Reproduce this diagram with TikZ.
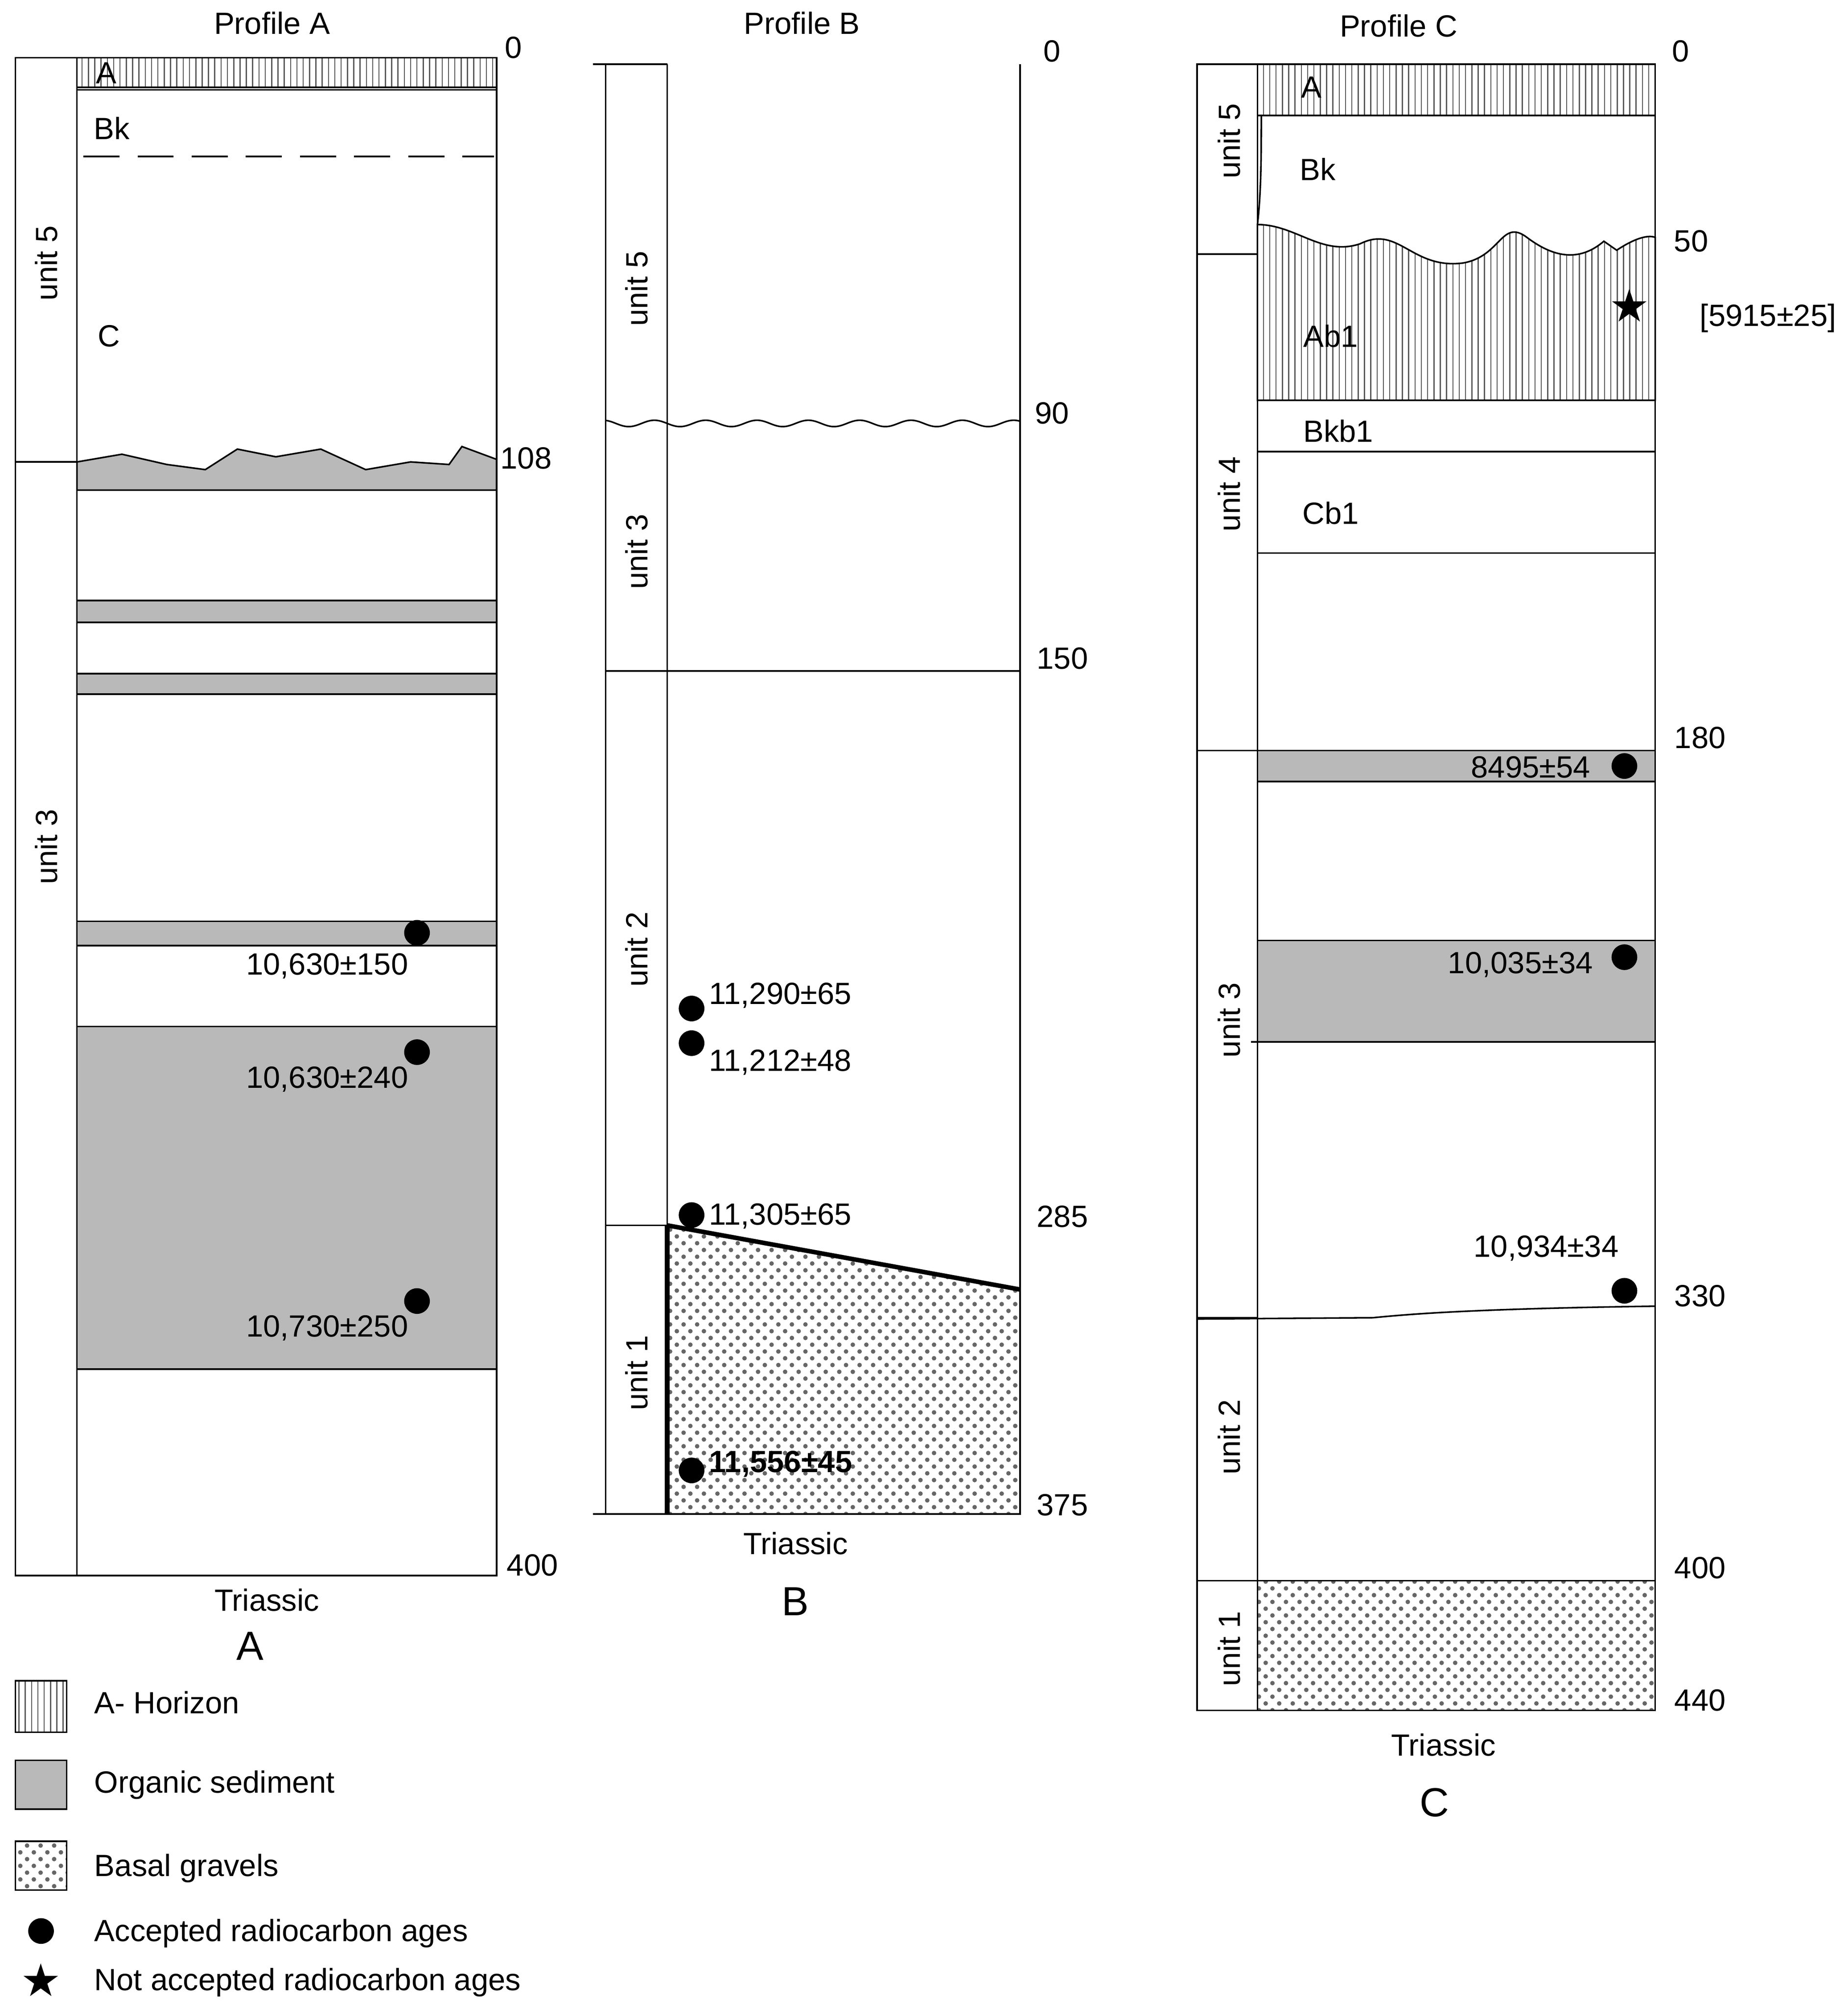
\documentclass[tikz,border=0pt]{standalone}
\usepackage{fontspec}
\setmainfont{Liberation Sans}
\newfontfamily\symfont{DejaVu Sans}
\usetikzlibrary{patterns,patterns.meta}
\begin{document}
\begin{tikzpicture}[x=0.01cm,y=-0.01cm,line width=0.35pt,
  lab/.style={font=\fontsize{6.8}{8}\selectfont,inner sep=0pt},
  unitlab/.style={lab,rotate=90},
  org/.style={fill=gray!55,draw=black},
  hor/.style={pattern={Lines[angle=90,distance=1.4pt,line width=0.25pt]},pattern color=black!65,draw=black},
  grav/.style={pattern=crosshatch dots,pattern color=black!60,draw=black},
  dotm/.style={circle,fill=black,minimum size=0.2cm,inner sep=0pt},
  starm/.style={font=\symfont\fontsize{10}{10}\selectfont,inner sep=0pt}]
\useasboundingbox (0,0) rectangle (1440,1565);
% ---------- Profile A
\node[lab] (pa) at (212,18) {Profile A};
\draw (12,45) rectangle (387,1228);
\draw (60,45) -- (60,1228);
\draw (12,360) -- (60,360);
\draw[hor] (60,45) rectangle (387,68);
\node[lab] at (83,57) {A};
\draw (60,70) -- (387,70);
\node[lab] at (87,100) {Bk};
\draw[dash pattern=on 8pt off 4pt] (65,122) -- (385,122);
\node[lab] at (85,262) {C};
\draw[org] (60,360) -- (95,354) -- (130,362) -- (160,366) -- (185,350) -- (215,356) -- (250,350) -- (285,366) -- (320,360) -- (350,362) -- (360,348) -- (387,358) -- (387,382) -- (60,382) -- cycle;
\draw[org] (60,468) rectangle (387,485);
\draw[org] (60,525) rectangle (387,541);
\draw[org] (60,718) rectangle (387,737);
\draw[org] (60,800) rectangle (387,1067);
\node[dotm] (a1) at (325,727) {};
\node[dotm] (a2) at (325,820) {};
\node[dotm] (a3) at (325,1014) {};
\node[lab] at (255,753) {10,630±150};
\node[lab] at (255,841) {10,630±240};
\node[lab] at (255,1035) {10,730±250};
\node[unitlab] at (36,205) {unit 5};
\node[unitlab] at (36,660) {unit 3};
\node[lab] at (400,37) {0};
\node[lab] at (410,357) {108};
\node[lab] at (415,1220) {400};
\node[lab] at (208,1247) {Triassic};
\node[lab,font=\fontsize{9}{10}\selectfont] at (195,1283) {A};
% ---------- Profile B
\node[lab] at (625,18) {Profile B};
\draw (472,50) -- (472,1180);
\draw (462,50) -- (520,50);
\draw (520,50) -- (520,1180);
\draw (795,50) -- (795,1180);
\draw (462,1180) -- (795,1180);
\draw[smooth] plot[domain=472:795,samples=120] (\x,{330+2.5*sin(\x*9)});
\draw (472,523) -- (795,523);
\draw (472,955) -- (520,955);
\draw[grav] (520,955) -- (795,1005) -- (795,1180) -- (520,1180) -- cycle;
\draw[line width=1pt] (520,955) -- (795,1005);
\draw[line width=1pt] (520,955) -- (520,1180);
\node[unitlab] at (496,225) {unit 5};
\node[unitlab] at (496,430) {unit 3};
\node[unitlab] at (496,740) {unit 2};
\node[unitlab] at (496,1070) {unit 1};
\node[dotm] (b1) at (539,786) {};
\node[dotm] (b2) at (539,813) {};
\node[dotm] (b3) at (539,947) {};
\node[dotm] (b4) at (539,1146) {};
\node[lab,anchor=west] at (552,776) {11,290±65};
\node[lab,anchor=west] at (552,828) {11,212±48};
\node[lab,anchor=west] at (552,948) {11,305±65};
\node[lab,anchor=west,font=\fontsize{6.8}{8}\selectfont\bfseries] at (552,1141) {11,556±45};
\node[lab] at (820,40) {0};
\node[lab] at (820,322) {90};
\node[lab] at (828,513) {150};
\node[lab] at (828,948) {285};
\node[lab] at (828,1173) {375};
\node[lab] at (620,1203) {Triassic};
\node[lab,font=\fontsize{9}{10}\selectfont] at (620,1248) {B};
% ---------- Profile C
\node[lab] at (1090,20) {Profile C};
\draw (933,50) rectangle (1290,1333);
\draw (980,50) -- (980,1333);
\draw (933,198) -- (980,198);
\draw (933,585) -- (980,585);
\draw (933,1027) -- (980,1027);
\draw (933,1232) -- (980,1232);
\draw[hor] (980,50) rectangle (1290,90);
\node[lab] at (1022,68) {A};
\node[lab] at (1027,132) {Bk};
\draw[hor] (980,175) .. controls (1010,175) and (1030,200) .. (1060,190) .. controls (1090,175) and (1100,210) .. (1140,205) .. controls (1170,200) and (1170,170) .. (1190,185) .. controls (1210,200) and (1230,205) .. (1250,188) -- (1260,195) .. controls (1275,185) and (1285,183) .. (1290,185) -- (1290,312) -- (980,312) -- cycle;
\draw (980,175) .. controls (983,150) and (983,120) .. (983,90);
\node[lab] at (1037,262) {Ab1};
\node[starm] (st) at (1270,238) {★};
\node[lab] at (1378,248) {[5915±25]};
\draw (980,352) -- (1290,352);
\node[lab] at (1043,336) {Bkb1};
\node[lab] at (1037,400) {Cb1};
\draw (980,431) -- (1290,431);
\draw[org] (980,585) rectangle (1290,609);
\draw[org] (980,733) rectangle (1290,812);
\draw (975,812) -- (980,812);
\draw (933,1028) -- (1070,1027) .. controls (1100,1024) and (1150,1020) .. (1290,1018);
\draw[grav] (980,1232) rectangle (1290,1333);
\node[dotm] (c1) at (1266,597) {};
\node[dotm] (c2) at (1266,746) {};
\node[dotm] (c3) at (1266,1006) {};
\node[lab] at (1193,598) {8495±54};
\node[lab] at (1185,752) {10,035±34};
\node[lab] at (1205,973) {10,934±34};
\node[unitlab] at (958,110) {unit 5};
\node[unitlab] at (958,385) {unit 4};
\node[unitlab] at (958,795) {unit 3};
\node[unitlab] at (958,1120) {unit 2};
\node[unitlab] at (958,1285) {unit 1};
\node[lab] at (1310,40) {0};
\node[lab] at (1318,188) {50};
\node[lab] at (1325,575) {180};
\node[lab] at (1325,1010) {330};
\node[lab] at (1325,1222) {400};
\node[lab] at (1325,1325) {440};
\node[lab] at (1125,1360) {Triassic};
\node[lab,font=\fontsize{9}{10}\selectfont] at (1118,1405) {C};
% ---------- Legend
\draw[hor] (12,1310) rectangle (52,1350);
\draw[org] (12,1372) rectangle (52,1410);
\draw[grav] (12,1435) rectangle (52,1473);
\node[dotm] (ld) at (32,1505) {};
\node[starm] (ls) at (32,1543) {★};
\node[lab,anchor=west] at (73,1327) {A- Horizon};
\node[lab,anchor=west] at (73,1391) {Organic sediment};
\node[lab,anchor=west] at (73,1456) {Basal gravels};
\node[lab,anchor=west] at (73,1507) {Accepted radiocarbon ages};
\node[lab,anchor=west] at (73,1545) {Not accepted radiocarbon ages};
\end{tikzpicture}
\end{document}
